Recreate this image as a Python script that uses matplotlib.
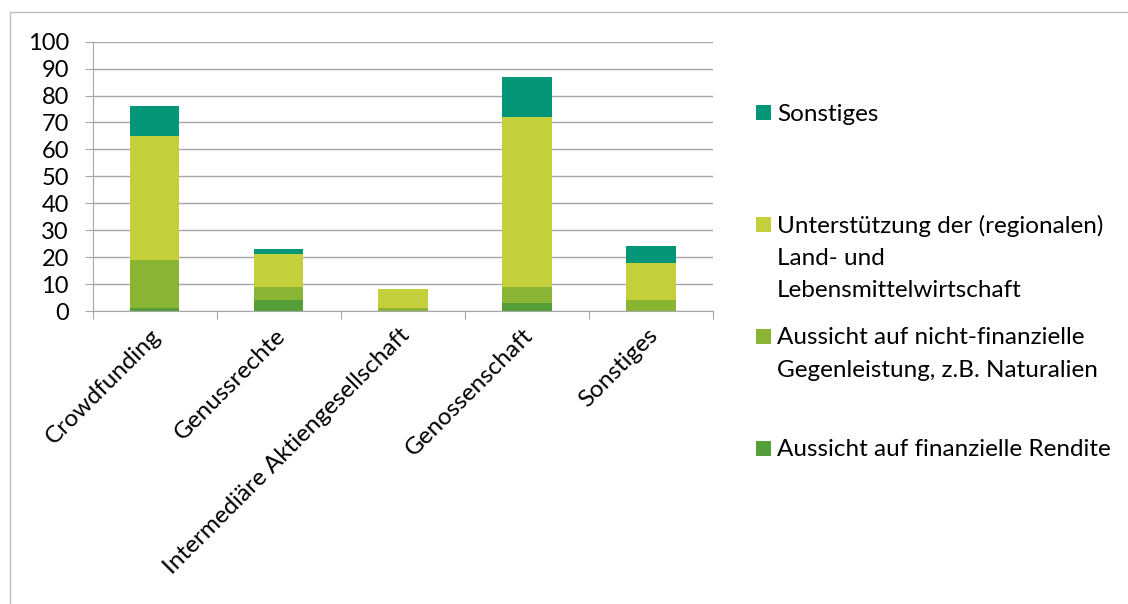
import matplotlib
matplotlib.use("Agg")
import matplotlib.pyplot as plt
from matplotlib.patches import Rectangle
import numpy as np

plt.rcParams['font.family'] = ['Lato', 'DejaVu Sans']

categories = ["Crowdfunding", "Genussrechte", "Intermediäre Aktiengesellschaft", "Genossenschaft", "Sonstiges"]
finanzielle_rendite = [1, 4, 0, 3, 0]
nicht_finanzielle = [18, 5, 1, 6, 4]
unterstuetzung = [46, 12, 7, 63, 14]
sonstiges = [11, 2, 0, 15, 6]

series_names = ["Aussicht auf finanzielle Rendite",
                "Aussicht auf nicht-finanzielle\nGegenleistung, z.B. Naturalien",
                "Unterstützung der (regionalen)\nLand- und\nLebensmittelwirtschaft",
                "Sonstiges"]
colors = ["#559E3A", "#8AB534", "#C3D03B", "#039677"]
yticks = list(range(0, 101, 10))

W, H = 1128, 604
FS_Y = 17
FS_X = 17.5
FS_L = 17.5
fig = plt.figure(figsize=(W / 100, H / 100), dpi=100)
# outer chart border
fig.patches.append(Rectangle((10 / W, -0.1), 1.2, (H - 12) / H + 0.1, transform=fig.transFigure,
                             fill=False, edgecolor="#BFBFBF", linewidth=1))
ax = fig.add_axes([92.5 / W, 1 - 311 / H, (713 - 92.5) / W, (311 - 41.7) / H])

x = np.arange(len(categories))
bottom = np.zeros(len(categories))
for vals, c, name in zip([finanzielle_rendite, nicht_finanzielle, unterstuetzung, sonstiges], colors, series_names):
    ax.bar(x, vals, 0.4, bottom=bottom, color=c, label=name, zorder=3)
    bottom += np.array(vals)

ax.set_xlim(-0.5, len(categories) - 0.5)
ax.set_ylim(0, 100)
ax.set_yticks(yticks)
ax.set_yticklabels([str(t) for t in yticks], fontsize=FS_Y)
ax.yaxis.grid(True, color="#A6A6A6", linewidth=1, zorder=0)
ax.set_axisbelow(True)
for s in ["top", "right"]:
    ax.spines[s].set_visible(False)
ax.spines["left"].set_color("#A6A6A6")
ax.spines["bottom"].set_color("#A6A6A6")
ax.tick_params(axis="y", length=6, color="#A6A6A6", pad=11)
ax.set_xticks(np.arange(-0.5, len(categories), 1.0))
ax.set_xticklabels([])
ax.tick_params(axis="x", length=6, color="#A6A6A6")
for i, cat in enumerate(categories):
    ax.annotate(cat, xy=(i, 0), xycoords=("data", "data"), xytext=(-3, -10), textcoords="offset points",
                rotation=45, ha="right", va="top", rotation_mode="anchor", fontsize=FS_X)

# legend drawn manually to mimic the reference layout
legend_rows = [
    (colors[3], [series_names[3]], 112),
    (colors[2], series_names[2].split("\n"), 224),
    (colors[1], series_names[1].split("\n"), 336),
    (colors[0], series_names[0].split("\n"), 448),
]
line_step = 32.5
for col, lines, y0 in legend_rows:
    fig.patches.append(Rectangle((756 / W, 1 - (y0 + 7.5) / H), 15 / W, 15 / H,
                                 transform=fig.transFigure, facecolor=col, edgecolor="none"))
    for k, ln in enumerate(lines):
        fig.text(777 / W, 1 - (y0 + k * line_step) / H, ln, fontsize=FS_L, va="center_baseline", ha="left")

fig.savefig("out.png", dpi=100)
